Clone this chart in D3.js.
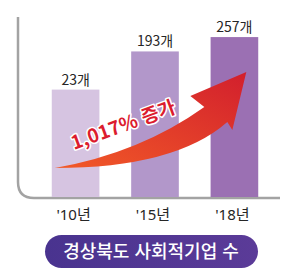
<!DOCTYPE html>
<html lang="ko">
<head>
  <meta charset="UTF-8">
  <title>경상북도 사회적기업 수</title>
  <script src="https://d3js.org/d3.v7.min.js"></script>
  <style>
    body { margin: 0; background: #fff; }
    svg text { font-family: "Noto Sans CJK KR", "Noto Sans", sans-serif; }
    svg text.yr { font-family: "Noto Sans", "Noto Sans CJK KR", sans-serif; }
  </style>
</head>
<body>
  <svg width="300" height="273"></svg>
  <script>
  const years = ["'10년", "'15년", "'18년"];
  const counts = [23, 193, 257];
  const valueLabels = ["23개", "193개", "257개"];
  const barColors = ["#d6c4e1", "#b297ca", "#9b70b3"];
  const growthLabel = "1,017% 증가";
  const title = "경상북도 사회적기업 수";

  const width = 300, height = 273;
  const baseY = 198;

  const svg = d3.select("svg");
  const defs = svg.append("defs");

  // the infographic baseline is not at zero, bars are exaggerated
  const x = d3.scaleBand().domain(years).range([20, 290]).paddingInner(0.4).paddingOuter(0.4);
  const y = d3.scaleLinear().domain([-460, 260]).range([baseY, 36.4]);

  // axis frame with rounded corner
  const ax = x.range()[0] - 2;
  const frame = d3.path();
  frame.moveTo(ax, 17);
  frame.lineTo(ax, baseY - 16);
  frame.quadraticCurveTo(ax, baseY, ax + 16, baseY);
  frame.lineTo(280, baseY);
  svg.append("path")
    .attr("d", frame.toString())
    .attr("fill", "none")
    .attr("stroke", "#a3a3a3")
    .attr("stroke-width", 2.5);

  svg.selectAll(".bar")
    .data(counts)
    .enter()
    .append("rect")
    .attr("class", "bar")
    .attr("x", (d, i) => x(years[i]))
    .attr("y", d => y(d))
    .attr("width", x.bandwidth())
    .attr("height", d => baseY - y(d) - 1)
    .attr("fill", (d, i) => barColors[i]);

  svg.selectAll(".val")
    .data(counts)
    .enter()
    .append("text")
    .attr("class", "val")
    .attr("x", (d, i) => x(years[i]) + x.bandwidth() / 2)
    .attr("y", d => y(d) - 5)
    .attr("text-anchor", "middle")
    .attr("font-size", "14px")
    .attr("fill", "#262626")
    .text((d, i) => valueLabels[i]);

  svg.selectAll(".yr")
    .data(years)
    .enter()
    .append("text")
    .attr("class", "yr")
    .attr("x", d => x(d) + x.bandwidth() / 2 - 2)
    .attr("y", 220)
    .attr("text-anchor", "middle")
    .attr("font-size", "15px")
    .attr("fill", "#262626")
    .text(d => d);

  // growth arrow from first bar to last bar
  const grad = defs.append("linearGradient").attr("id", "arrowGrad")
    .attr("x1", 0).attr("y1", 1).attr("x2", 1).attr("y2", 0);
  grad.append("stop").attr("offset", "0%").attr("stop-color", "#f25a27");
  grad.append("stop").attr("offset", "100%").attr("stop-color", "#d21f2d");

  const x0 = x(years[0]), x2 = x(years[2]), bw = x.bandwidth();
  const tail = [x0 + 3, 168];
  const tip = [x2 + bw * 0.75, 72];
  const arrow = d3.path();
  arrow.moveTo(tail[0], tail[1]);
  arrow.quadraticCurveTo(175, 168, tip[0] - 19, tip[1] + 50);
  arrow.lineTo(tip[0] - 14, tip[1] + 58);
  arrow.lineTo(tip[0], tip[1]);
  arrow.lineTo(tip[0] - 56, tip[1] + 24);
  arrow.lineTo(tip[0] - 42, tip[1] + 35);
  arrow.quadraticCurveTo(140, 153, tail[0], tail[1]);
  arrow.closePath();
  svg.append("path")
    .attr("d", arrow.toString())
    .attr("fill", "url(#arrowGrad)");

  svg.append("text")
    .attr("transform", "translate(74,150) rotate(-20)")
    .attr("font-size", "19px")
    .attr("font-weight", "bold")
    .attr("fill", "#dc1c2e")
    .attr("stroke", "#fff")
    .attr("stroke-width", 3)
    .attr("paint-order", "stroke")
    .attr("stroke-linejoin", "round")
    .text(growthLabel);

  // title pill
  const pill = defs.append("linearGradient").attr("id", "pillGrad")
    .attr("x1", 0).attr("y1", 0).attr("x2", 1).attr("y2", 0);
  pill.append("stop").attr("offset", "0%").attr("stop-color", "#49338f");
  pill.append("stop").attr("offset", "100%").attr("stop-color", "#5b3b98");

  svg.append("rect")
    .attr("x", 45)
    .attr("y", 235)
    .attr("width", 213)
    .attr("height", 33)
    .attr("rx", 16.5)
    .attr("fill", "url(#pillGrad)");

  svg.append("text")
    .attr("x", 151)
    .attr("y", 258)
    .attr("text-anchor", "middle")
    .attr("font-size", "18px")
    .attr("font-weight", 500)
    .attr("fill", "#fff")
    .text(title);
  </script>
</body>
</html>
